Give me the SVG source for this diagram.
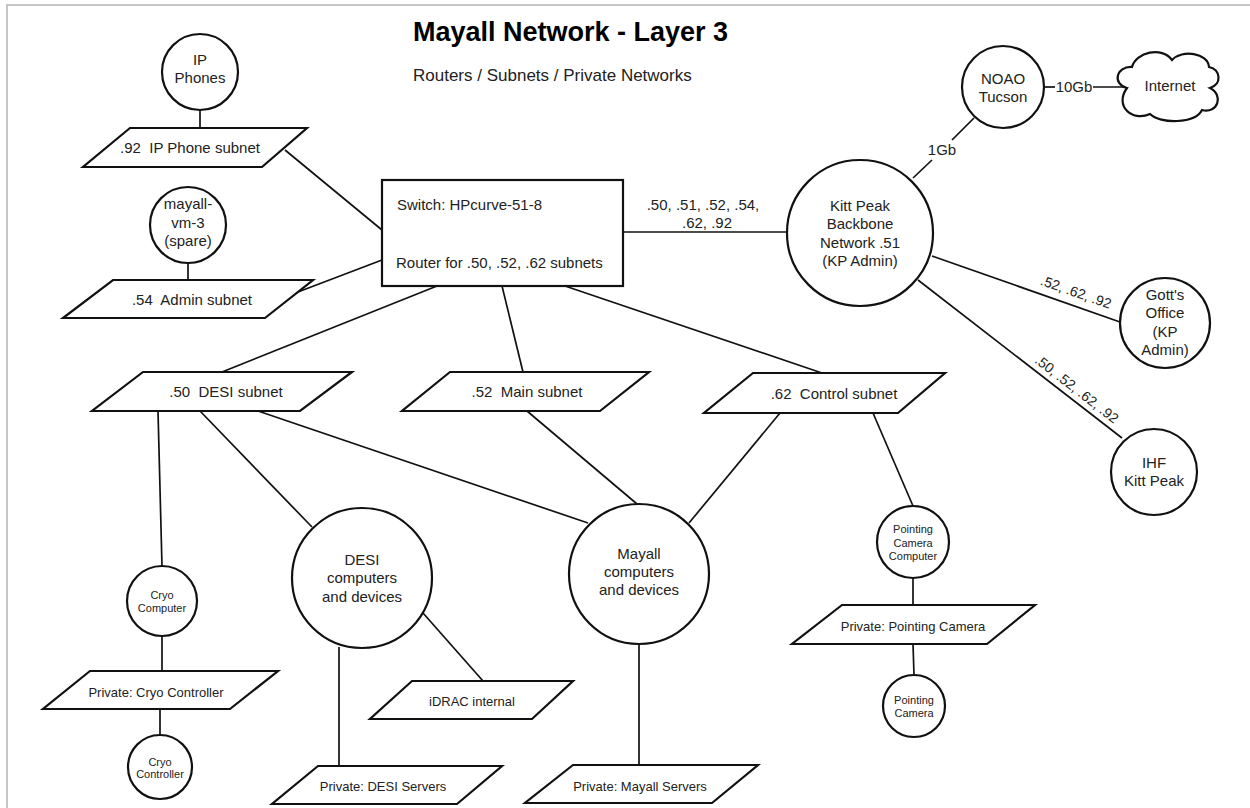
<svg xmlns="http://www.w3.org/2000/svg" width="1250" height="808" viewBox="0 0 1250 808">
<style>
.frame{fill:#fff;stroke:#b4b4b4;stroke-width:1.5}
.sh{fill:#fff;stroke:#111;stroke-width:2.2}
.ln{fill:none;stroke:#111;stroke-width:1.7}
text{font-family:"Liberation Sans",Arial,Helvetica,sans-serif;fill:#222}
.t{font-size:15px;text-anchor:middle}
.tl{font-size:15px}
.s{font-size:11px;text-anchor:middle}
.p{font-size:13px;text-anchor:middle}
.e{font-size:14px;text-anchor:middle}
.title{font-size:27px;font-weight:bold;fill:#000}
.sub{font-size:17px}
</style>
<rect x="0" y="0" width="1250" height="808" fill="#fff"/>
<rect class="frame" x="7" y="5" width="1270" height="830"/>
<text class="title" x="413" y="41">Mayall Network - Layer 3</text>
<text class="sub" x="413" y="81">Routers / Subnets / Private Networks</text>

<g id="connectors">
<line class="ln" x1="200" y1="110" x2="200" y2="128"/>
<line class="ln" x1="188" y1="263" x2="188" y2="280"/>
<line class="ln" x1="285" y1="150" x2="382" y2="230"/>
<line class="ln" x1="290" y1="295" x2="382" y2="260"/>
<line class="ln" x1="437" y1="286" x2="222" y2="372"/>
<line class="ln" x1="502" y1="286" x2="523" y2="372"/>
<line class="ln" x1="565" y1="286" x2="822" y2="373"/>
<line class="ln" x1="623" y1="232" x2="787" y2="232"/>
<line class="ln" x1="913" y1="178" x2="932" y2="160"/>
<line class="ln" x1="952" y1="140" x2="974" y2="118"/>
<line class="ln" x1="1044" y1="87" x2="1055" y2="87"/>
<line class="ln" x1="1093" y1="87" x2="1127" y2="87"/>
<line class="ln" x1="932" y1="256" x2="1120" y2="322"/>
<line class="ln" x1="918" y1="280" x2="1122" y2="438"/>
<line class="ln" x1="158" y1="411" x2="162" y2="566"/>
<line class="ln" x1="200" y1="411" x2="312" y2="527"/>
<line class="ln" x1="258" y1="411" x2="588" y2="523"/>
<line class="ln" x1="162" y1="636" x2="162" y2="671"/>
<line class="ln" x1="160" y1="709" x2="160" y2="735"/>
<line class="ln" x1="339" y1="647" x2="339" y2="766"/>
<line class="ln" x1="423" y1="613" x2="483" y2="681"/>
<line class="ln" x1="527" y1="411" x2="637" y2="504"/>
<line class="ln" x1="780" y1="413" x2="689" y2="523"/>
<line class="ln" x1="639" y1="644" x2="639" y2="765"/>
<line class="ln" x1="873" y1="413" x2="913" y2="506"/>
<line class="ln" x1="913" y1="578" x2="913" y2="605"/>
<line class="ln" x1="913" y1="644" x2="914" y2="675"/>
<text class="t" x="703" y="210">.50, .51, .52, .54,</text>
<text class="t" x="707" y="228">.62, .92</text>
<text class="t" x="942" y="155">1Gb</text>
<text class="t" x="1074" y="92">10Gb</text>
<text class="e" transform="translate(1076,292) rotate(19.3)" y="5">.52, .62, .92</text>
<text class="e" transform="translate(1077,389) rotate(37.8)" y="5">.50, .52, .62, .92</text>
</g>

<g id="ip-phones"><circle class="sh" cx="200" cy="72" r="38"/><text class="t" x="200" y="65">IP</text><text class="t" x="200" y="83">Phones</text></g>
<g id="subnet-92"><polygon class="sh" points="130,128 307,128 262,167 83,167"/><text class="t" x="190" y="153" xml:space="preserve">.92  IP Phone subnet</text></g>
<g id="mayall-vm-3"><circle class="sh" cx="188" cy="225" r="38"/><text class="t" x="188" y="209">mayall-</text><text class="t" x="188" y="228">vm-3</text><text class="t" x="188" y="246">(spare)</text></g>
<g id="subnet-54"><polygon class="sh" points="113,280 313,280 265,318 63,318"/><text class="t" x="192" y="305" xml:space="preserve">.54  Admin subnet</text></g>
<g id="switch"><rect class="sh" x="382" y="180" width="241" height="106"/><text class="tl" x="397" y="210">Switch: HPcurve-51-8</text><text class="tl" x="396" y="268">Router for .50, .52, .62 subnets</text></g>
<g id="kp-backbone"><circle class="sh" cx="860" cy="233" r="73"/><text class="t" x="860" y="211">Kitt Peak</text><text class="t" x="860" y="229">Backbone</text><text class="t" x="860" y="248">Network .51</text><text class="t" x="860" y="266">(KP Admin)</text></g>
<g id="noao"><circle class="sh" cx="1003" cy="87" r="41"/><text class="t" x="1003" y="84">NOAO</text><text class="t" x="1003" y="102">Tucson</text></g>
<g id="internet"><path class="sh" d="M1127,88 C1112,84 1116,66 1132,67 C1136,52 1162,46 1172,60 C1182,49 1208,53 1209,67 C1221,70 1222,84 1210,88 C1224,95 1218,114 1202,110 C1195,124 1160,124 1150,114 C1132,122 1114,106 1127,88 Z"/><text class="t" x="1170" y="91">Internet</text></g>
<g id="gott"><circle class="sh" cx="1165" cy="323" r="45"/><text class="t" x="1165" y="300">Gott's</text><text class="t" x="1165" y="318">Office</text><text class="t" x="1165" y="337">(KP</text><text class="t" x="1165" y="355">Admin)</text></g>
<g id="ihf"><circle class="sh" cx="1154" cy="472" r="43"/><text class="t" x="1154" y="468">IHF</text><text class="t" x="1154" y="486">Kitt Peak</text></g>
<g id="subnet-50"><polygon class="sh" points="143,372 352,372 300,411 92,411"/><text class="t" x="226" y="397" xml:space="preserve">.50  DESI subnet</text></g>
<g id="subnet-52"><polygon class="sh" points="450,372 649,372 600,411 402,411"/><text class="t" x="527" y="397" xml:space="preserve">.52  Main subnet</text></g>
<g id="subnet-62"><polygon class="sh" points="753,373 945,373 898,413 704,413"/><text class="t" x="834" y="399" xml:space="preserve">.62  Control subnet</text></g>
<g id="cryo-computer"><circle class="sh" cx="162" cy="601" r="35"/><text class="s" x="162" y="599">Cryo</text><text class="s" x="162" y="612">Computer</text></g>
<g id="private-cryo"><polygon class="sh" points="90,671 278,671 230,709 43,709"/><text class="p" x="156" y="697">Private: Cryo Controller</text></g>
<g id="cryo-controller"><circle class="sh" cx="160" cy="767" r="32"/><text class="s" x="160" y="766">Cryo</text><text class="s" x="160" y="778">Controller</text></g>
<g id="desi-computers"><circle class="sh" cx="362" cy="578" r="70"/><text class="t" x="362" y="565">DESI</text><text class="t" x="362" y="583">computers</text><text class="t" x="362" y="602">and devices</text></g>
<g id="idrac"><polygon class="sh" points="412,681 573,681 532,719 370,719"/><text class="p" x="472" y="706">iDRAC internal</text></g>
<g id="private-desi"><polygon class="sh" points="318,766 502,766 457,804 272,804"/><text class="p" x="383" y="791">Private: DESI Servers</text></g>
<g id="mayall-computers"><circle class="sh" cx="639" cy="574" r="70"/><text class="t" x="639" y="559">Mayall</text><text class="t" x="639" y="577">computers</text><text class="t" x="639" y="595">and devices</text></g>
<g id="private-mayall"><polygon class="sh" points="573,765 758,765 712,803 525,803"/><text class="p" x="640" y="791">Private: Mayall Servers</text></g>
<g id="pointing-camera-computer"><circle class="sh" cx="913" cy="542" r="36"/><text class="s" x="913" y="533">Pointing</text><text class="s" x="913" y="547">Camera</text><text class="s" x="913" y="560">Computer</text></g>
<g id="private-pointing"><polygon class="sh" points="842,605 1035,605 987,644 792,644"/><text class="p" x="913" y="631">Private: Pointing Camera</text></g>
<g id="pointing-camera"><circle class="sh" cx="914" cy="706" r="31"/><text class="s" x="914" y="704">Pointing</text><text class="s" x="914" y="717">Camera</text></g>
</svg>
